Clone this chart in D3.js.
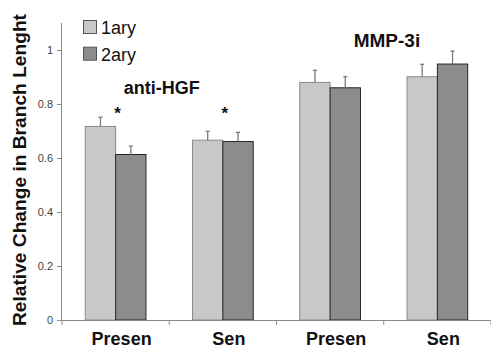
<!DOCTYPE html>
<html><head><meta charset="utf-8">
<script src="https://cdn.jsdelivr.net/npm/d3@7"></script>
<style>body{margin:0;background:#fff}svg{display:block}text{font-family:"Liberation Sans",Arial,sans-serif}</style>
</head><body>
<svg id="c" width="491" height="348"></svg>
<script>
const categories = ["Presen","Sen","Presen","Sen"];
const series = ["1ary","2ary"];
const values1ary = [0.717, 0.666, 0.880, 0.901];
const values2ary = [0.613, 0.661, 0.860, 0.948];
const err1ary = [0.034, 0.033, 0.045, 0.046];
const err2ary = [0.031, 0.034, 0.041, 0.048];
const yTicks = [0, 0.2, 0.4, 0.6, 0.8, 1];
const groupLabels = ["anti-HGF", "MMP-3i"];
const stars = [0, 1];

const fills = {"1ary":"#c8c8c8","2ary":"#8c8c8c"};
const strokes = {"1ary":"#8a8a8a","2ary":"#262626"};
const vals = {"1ary":values1ary,"2ary":values2ary};
const errs = {"1ary":err1ary,"2ary":err2ary};

const svg = d3.select("#c");
const mLeft = 62, mRight = 491, mTop = 23, mBottom = 320;
const y = d3.scaleLinear().domain([0, 1.1]).range([mBottom, mTop]);
const x0 = d3.scaleBand().domain(d3.range(categories.length)).range([mLeft, mRight]).paddingInner(0).paddingOuter(0);
const x1 = d3.scaleBand().domain(series).range([0, x0.bandwidth()]).paddingInner(0).paddingOuter(0.767);

// bars
series.forEach(s => {
  const g = svg.append("g");
  g.selectAll("rect").data(vals[s]).join("rect")
    .attr("x", (d,i) => x0(i) + x1(s))
    .attr("y", d => y(d))
    .attr("width", x1.bandwidth())
    .attr("height", d => y(0) - y(d))
    .attr("fill", fills[s]).attr("stroke", strokes[s]).attr("stroke-width", 1);
  const eg = svg.append("g").attr("stroke", "#7a7a7a").attr("stroke-width", 1.3);
  vals[s].forEach((d,i) => {
    const cx = x0(i) + x1(s) + x1.bandwidth()/2;
    eg.append("line").attr("x1", cx).attr("x2", cx).attr("y1", y(d)).attr("y2", y(d + errs[s][i]));
    eg.append("line").attr("x1", cx-2).attr("x2", cx+2).attr("y1", y(d + errs[s][i])).attr("y2", y(d + errs[s][i]));
  });
});

// y axis
const ya = svg.append("g").attr("transform", `translate(${mLeft},0)`)
  .call(d3.axisLeft(y).tickValues(yTicks).tickSize(5).tickPadding(4).tickFormat(d => d3.format("")(d)));
ya.select(".domain").attr("stroke", "#8a8a8a").attr("d", `M-0.5,${mBottom}V${mTop}`);
ya.selectAll(".tick line").attr("stroke", "#8a8a8a");
ya.selectAll(".tick text").attr("fill", "#444").style("font-size", "11px").style("font-family", "Liberation Sans, Arial, sans-serif");

// x axis
const xa = svg.append("g").attr("transform", `translate(0,${mBottom})`);
xa.append("line").attr("x1", mLeft).attr("x2", mRight).attr("y1", 0.5).attr("y2", 0.5).attr("stroke", "#8a8a8a");
xa.selectAll("line.t").data(d3.range(categories.length + 1)).join("line").attr("class","t")
  .attr("x1", i => i < categories.length ? x0(i) : mRight).attr("x2", i => i < categories.length ? x0(i) : mRight)
  .attr("y1", 0).attr("y2", 5).attr("stroke", "#8a8a8a");
xa.selectAll("text").data(categories).join("text")
  .attr("x", (d,i) => x0(i) + x0.bandwidth()/2 + 6)
  .attr("y", 25)
  .attr("text-anchor", "middle").attr("font-weight", "bold").attr("font-size", "18px").attr("fill", "#111")
  .text(d => d);

// y label
svg.append("text")
  .attr("transform", `translate(26,${(13+327)/2}) rotate(-90)`)
  .attr("text-anchor", "middle").attr("font-weight", "bold").attr("font-size", "18px").attr("fill", "#111")
  .attr("textLength", 312).attr("lengthAdjust", "spacingAndGlyphs")
  .text("Relative Change in Branch Lenght");

// group labels (positioned relative to category bands)
const glPos = [x0(0) + x0.bandwidth()*0.93, x0(3) + x0.bandwidth()*0.03];
svg.selectAll("text.gl").data(groupLabels).join("text").attr("class","gl")
  .attr("x", (d,i) => glPos[i])
  .attr("y", (d,i) => i === 0 ? 94 : 47)
  .attr("text-anchor", "middle").attr("font-weight", "bold")
  .attr("font-size", (d,i) => i === 0 ? "18px" : "19px").attr("fill", "#111")
  .text(d => d);

// stars
svg.selectAll("text.st").data(stars).join("text").attr("class","st")
  .attr("x", i => x0(i) + x0.bandwidth()/2 + 2)
  .attr("y", 119)
  .attr("text-anchor", "middle").attr("font-weight", "bold").attr("font-size", "17px").attr("fill", "#111")
  .text("*");

// legend
const lg = svg.append("g");
series.forEach((s, i) => {
  lg.append("rect").attr("x", 83.5).attr("y", 20.5 + i*26.7).attr("width", 13).attr("height", 13)
    .attr("fill", fills[s]).attr("stroke", "#555").attr("stroke-width", 1);
  lg.append("text").attr("x", 101).attr("y", 34 + i*26.7).attr("font-size", "18px").attr("fill", "#111").text(s);
});
</script>
</body></html>
